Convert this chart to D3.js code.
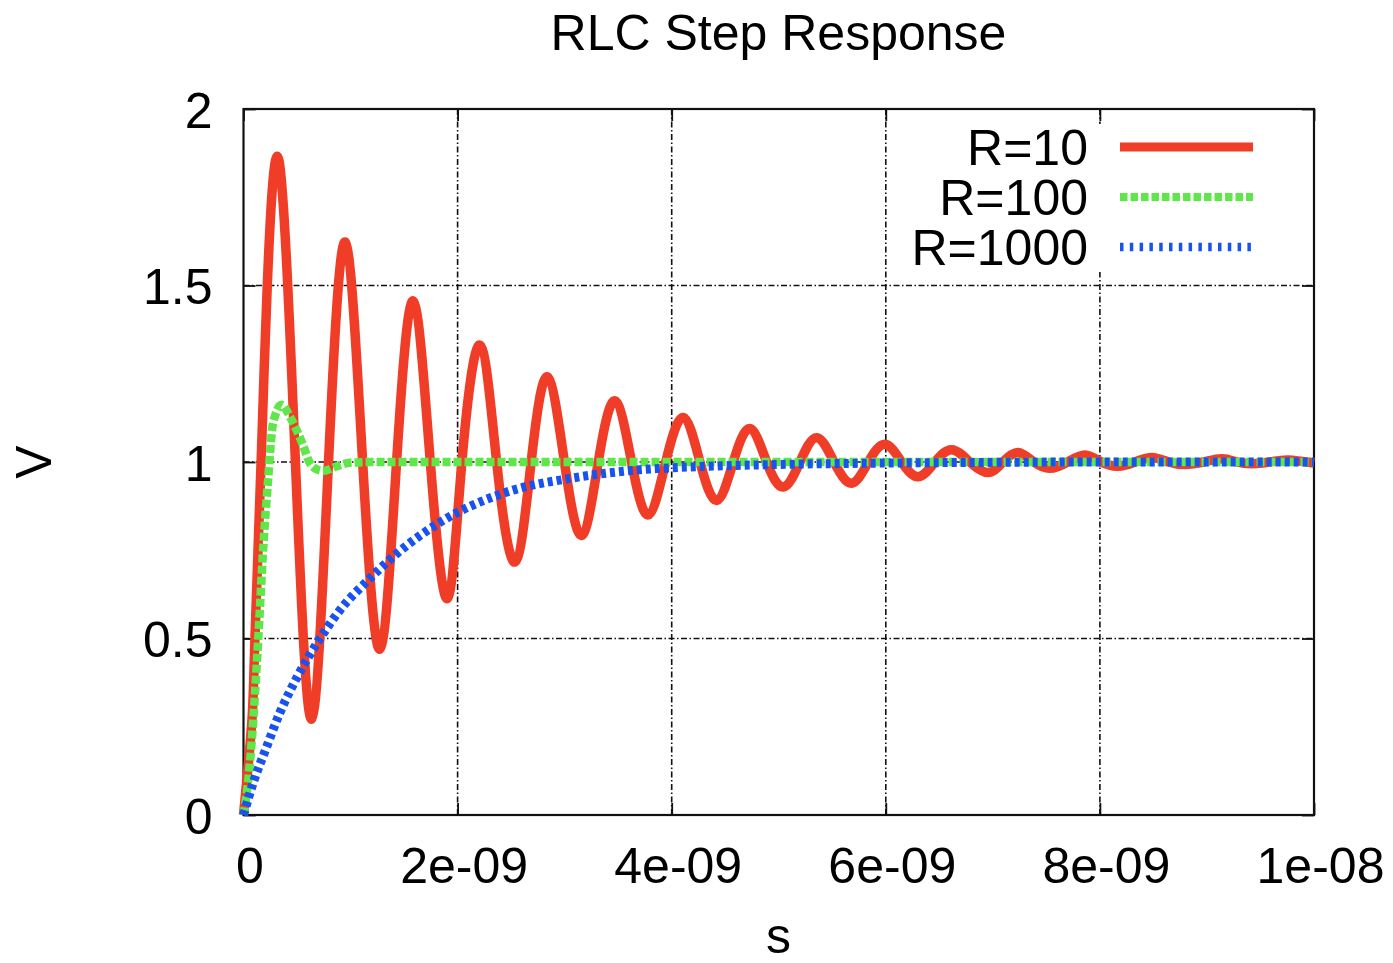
<!DOCTYPE html>
<html>
<head>
<meta charset="utf-8">
<script src="https://cdn.jsdelivr.net/npm/d3@7/dist/d3.min.js"></script>
<style>
  body { margin: 0; background: #fff; }
  text { font-family: "Liberation Sans", Arial, sans-serif; fill: #000; }
</style>
</head>
<body>
<script>
// time in ns, voltage in V
var xTicks = [0, 2, 4, 6, 8, 10];
var xTickLabels = ["0", "2e-09", "4e-09", "6e-09", "8e-09", "1e-08"];
var yTicks = [0, 0.5, 1, 1.5, 2];
var yTickLabels = ["0", "0.5", "1", "1.5", "2"];
var seriesNames = ["R=10", "R=100", "R=1000"];

var r10 = [
  [0, 0], [0.077, 0.26], [0.107, 0.5], [0.17, 1.05], [0.222, 1.5], [0.332, 1.853],
  [0.485, 1.0], [0.637, 0.272], [0.794, 1.0], [0.951, 1.623], [1.113, 1.0],
  [1.275, 0.470], [1.430, 1.0], [1.586, 1.456], [1.745, 1.0], [1.904, 0.613],
  [2.04, 1.0], [2.209, 1.331], [2.365, 1.0], [2.536, 0.717], [2.687, 1.0],
  [2.838, 1.241], [2.998, 1.0], [3.159, 0.792], [3.314, 1.0], [3.470, 1.173],
  [3.625, 1.0], [3.781, 0.850], [3.944, 1.0], [4.108, 1.126], [4.264, 1.0],
  [4.420, 0.891], [4.575, 1.0], [4.731, 1.095], [4.887, 1.0], [5.043, 0.929],
  [5.198, 1.0], [5.354, 1.069], [5.517, 1.0], [5.681, 0.940], [5.837, 1.0],
  [5.993, 1.050], [6.148, 1.0], [6.304, 0.958], [6.460, 1.0], [6.616, 1.035],
  [6.785, 1.0], [6.955, 0.970], [7.095, 1.0], [7.235, 1.027], [7.384, 1.0],
  [7.534, 0.982], [7.697, 1.0], [7.861, 1.020], [8.015, 1.0], [8.169, 0.988],
  [8.328, 1.0], [8.487, 1.013], [8.641, 1.0], [8.795, 0.993], [8.967, 1.0],
  [9.140, 1.009], [9.280, 1.0], [9.420, 0.995], [9.588, 1.0], [9.757, 1.006],
  [10, 0.997]
];

var r100 = [
  [0, 0], [0.045, 0.1], [0.077, 0.21], [0.138, 0.5], [0.185, 0.76], [0.23, 0.95],
  [0.276, 1.11], [0.357, 1.162], [0.434, 1.128], [0.497, 1.09], [0.559, 1.045],
  [0.615, 1.0], [0.668, 0.982], [0.746, 0.975], [0.871, 0.988], [0.995, 0.998],
  [1.21, 1.0], [2, 1.0], [4, 1.0], [6, 1.0], [8, 1.0], [10, 1.0]
];

var r1000 = [
  [0, 0], [0.1, 0.1], [0.2, 0.18], [0.34, 0.29], [0.5, 0.39], [0.715, 0.5],
  [0.9, 0.58], [1.18, 0.67], [1.43, 0.74], [1.84, 0.83], [2.46, 0.915],
  [3.08, 0.955], [3.7, 0.978], [4.17, 0.986], [5, 0.993], [6, 0.997],
  [7, 0.999], [8, 1.0], [10, 1.0]
];

var colors = ["#f03d28", "#5fe648", "#1852ef"];

var plotLeft = 243.5, plotRight = 1314, plotTop = 109, plotBottom = 815;

var svg = d3.select("body").append("svg")
  .attr("width", 1393)
  .attr("height", 963);

var x = d3.scaleLinear().domain([0, 10]).range([plotLeft, plotRight]);
var y = d3.scaleLinear().domain([0, 2]).range([plotBottom, plotTop]);

// grid
var gridDash = "6,2.5,1.5,2.5";
svg.append("g").selectAll("line")
  .data(xTicks.slice(1, -1))
  .enter().append("line")
  .attr("x1", d => x(d)).attr("x2", d => x(d))
  .attr("y1", plotTop).attr("y2", plotBottom)
  .attr("stroke", "#111").attr("stroke-width", 1.6)
  .attr("stroke-dasharray", gridDash);
svg.append("g").selectAll("line")
  .data(yTicks.slice(1, -1))
  .enter().append("line")
  .attr("x1", plotLeft).attr("x2", plotRight)
  .attr("y1", d => y(d)).attr("y2", d => y(d))
  .attr("stroke", "#111").attr("stroke-width", 1.6)
  .attr("stroke-dasharray", gridDash);

// legend box background hides the grid behind it
svg.append("rect")
  .attr("x", 905).attr("y", 124)
  .attr("width", 400).attr("height", 148)
  .attr("fill", "#fff");

// axes
var xAxis = svg.append("g")
  .attr("transform", "translate(0," + plotBottom + ")")
  .call(d3.axisBottom(x).tickValues(xTicks)
    .tickFormat((d, i) => xTickLabels[i]).tickSize(-12).tickPadding(32));
var yAxis = svg.append("g")
  .attr("transform", "translate(" + plotLeft + ",0)")
  .call(d3.axisLeft(y).tickValues(yTicks)
    .tickFormat((d, i) => yTickLabels[i]).tickSize(-12).tickPadding(31));
var xTop = svg.append("g")
  .attr("transform", "translate(0," + plotTop + ")")
  .call(d3.axisTop(x).tickValues(xTicks).tickFormat("").tickSize(-12));
var yRight = svg.append("g")
  .attr("transform", "translate(" + plotRight + ",0)")
  .call(d3.axisRight(y).tickValues(yTicks).tickFormat("").tickSize(-12));

[xAxis, yAxis, xTop, yRight].forEach(function (g) {
  g.select(".domain").remove();
  g.attr("font-size", null).attr("font-family", null);
  g.selectAll("line").attr("stroke", "#111").attr("stroke-width", 1.8);
  g.selectAll("text").style("font-size", "50px").attr("fill", "#000");
});
xAxis.selectAll("text").attr("dx", 6);
yAxis.selectAll("text").attr("dy", "0.36em");

// frame
svg.append("rect")
  .attr("x", plotLeft).attr("y", plotTop)
  .attr("width", plotRight - plotLeft).attr("height", plotBottom - plotTop)
  .attr("fill", "none").attr("stroke", "#111").attr("stroke-width", 2.2);

// curves
var line = d3.line()
  .x(d => x(d[0]))
  .y(d => y(d[1]));

svg.append("path")
  .datum(r10)
  .attr("d", line.curve(d3.curveNatural))
  .attr("fill", "none")
  .attr("stroke", colors[0])
  .attr("stroke-width", 9.5)
  .attr("stroke-linejoin", "round");

svg.append("path")
  .datum(r100)
  .attr("d", line.curve(d3.curveMonotoneX))
  .attr("fill", "none")
  .attr("stroke", colors[1])
  .attr("stroke-width", 8.5)
  .attr("stroke-dasharray", "8,3");

svg.append("path")
  .datum(r1000)
  .attr("d", line.curve(d3.curveMonotoneX))
  .attr("fill", "none")
  .attr("stroke", colors[2])
  .attr("stroke-width", 9)
  .attr("stroke-dasharray", "5,4");

// legend
var legendDash = [null, "7.5,3", "3.5,6.3"];
var legendWidth = [9, 8, 8.5];
var legend = svg.append("g").selectAll("g")
  .data(seriesNames)
  .enter().append("g")
  .attr("transform", (d, i) => "translate(0," + (147 + i * 50) + ")");
legend.append("text")
  .attr("x", 1088).attr("y", 18)
  .attr("text-anchor", "end")
  .style("font-size", "50px")
  .text(d => d);
legend.append("line")
  .attr("x1", 1120).attr("x2", 1253)
  .attr("y1", 0).attr("y2", 0)
  .attr("stroke", (d, i) => colors[i])
  .attr("stroke-width", (d, i) => legendWidth[i])
  .attr("stroke-dasharray", (d, i) => legendDash[i]);

// titles
svg.append("text")
  .attr("x", 778.5).attr("y", 50)
  .attr("text-anchor", "middle")
  .style("font-size", "50px")
  .text("RLC Step Response");
svg.append("text")
  .attr("x", 778.5).attr("y", 953)
  .attr("text-anchor", "middle")
  .style("font-size", "50px")
  .text("s");
svg.append("text")
  .attr("transform", "translate(51,462) rotate(-90)")
  .attr("text-anchor", "middle")
  .style("font-size", "50px")
  .text("V");
</script>
</body>
</html>
